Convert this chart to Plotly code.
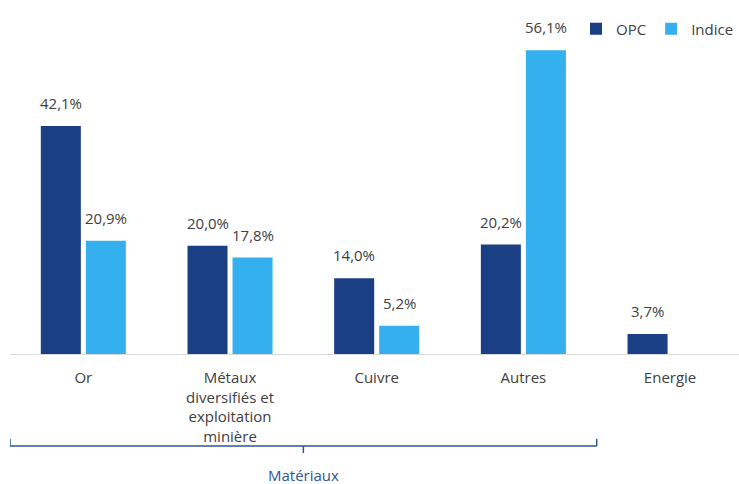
import plotly.graph_objects as go

categories = ["Or", "Métaux<br>diversifiés et<br>exploitation<br>minière", "Cuivre", "Autres", "Energie"]
opc = [42.1, 20.0, 14.0, 20.2, 3.7]
indice = [20.9, 17.8, 5.2, 56.1, None]
series_names = ["OPC", "Indice"]
colors = ["#1a3f85", "#35b0ef"]
group_label = "Matériaux"

FONT = "Open Sans, Lato, sans-serif"
TXT = "#404040"

fig = go.Figure()
for name, vals, col in zip(series_names, [opc, indice], colors):
    fig.add_trace(go.Bar(x=categories, y=vals, name=name, marker_color=col,
                         marker_line_width=0))

annotations = []
for vals, shift in [(opc, -22.5), (indice, 22.5)]:
    for c, v in zip(categories, vals):
        if v is None:
            continue
        annotations.append(dict(x=c, y=v, xref="x", yref="y", text=f"{v:.1f}%".replace(".", ","),
                                showarrow=False, xshift=shift, yshift=11, yanchor="bottom",
                                font=dict(size=15, color=TXT, family=FONT)))

# bracket for group
bracket_col = "#2f5597"
annotations.append(dict(x=1.5, y=-0.372, xref="x", yref="paper", text=group_label,
                        showarrow=False, yanchor="middle",
                        font=dict(size=15, color=bracket_col, family=FONT)))
yb = -0.283
shapes = [
    dict(type="line", xref="x", yref="paper", x0=-0.5, x1=3.5, y0=yb, y1=yb,
         line=dict(color=bracket_col, width=1.5)),
    dict(type="line", xref="x", yref="paper", x0=-0.5, x1=-0.5, y0=yb, y1=yb + 0.022,
         line=dict(color=bracket_col, width=1.5)),
    dict(type="line", xref="x", yref="paper", x0=3.5, x1=3.5, y0=yb, y1=yb + 0.022,
         line=dict(color=bracket_col, width=1.5)),
    dict(type="line", xref="x", yref="paper", x0=1.5, x1=1.5, y0=yb, y1=yb - 0.022,
         line=dict(color=bracket_col, width=1.5)),
]

fig.update_layout(
    width=739, height=484,
    margin=dict(l=10, r=0, t=29, b=130),
    plot_bgcolor="white", paper_bgcolor="white",
    barmode="group", bargap=0.386, bargroupgap=0.111,
    font=dict(family=FONT, size=15, color=TXT),
    showlegend=True,
    legend=dict(orientation="h", x=1.0, xanchor="right", y=1.0, yanchor="middle",
                font=dict(size=15, color=TXT), itemwidth=30, traceorder="normal",
                bgcolor="rgba(0,0,0,0)"),
    annotations=annotations,
    shapes=shapes,
)
fig.update_xaxes(range=[-0.5, 4.47], showline=True, linecolor="#d9d9d9", linewidth=1,
                 ticks="", ticklabelstandoff=10, tickfont=dict(size=15, color=TXT),
                 showgrid=False, fixedrange=True)
fig.update_yaxes(range=[0, 60], visible=False, showgrid=False, zeroline=False)

fig.write_html("out.html", config={"displayModeBar": False},
               post_script="document.body.style.margin='0';")
